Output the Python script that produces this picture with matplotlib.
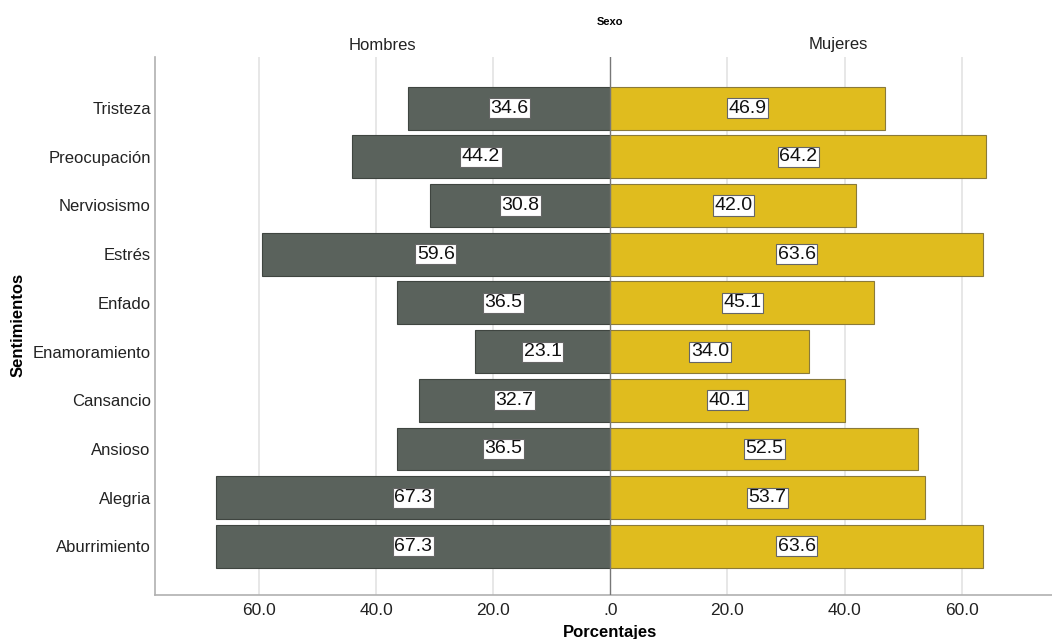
import numpy as np
import matplotlib.pyplot as plt

plt.rcParams['font.family'] = ['Liberation Sans', 'DejaVu Sans']

# categories listed bottom -> top
cats = ['Aburrimiento', 'Alegria', 'Ansioso', 'Cansancio', 'Enamoramiento',
        'Enfado', 'Estrés', 'Nerviosismo', 'Preocupación', 'Tristeza']
hombres = [67.3, 67.3, 36.5, 32.7, 23.1, 36.5, 59.6, 30.8, 44.2, 34.6]
mujeres = [63.6, 53.7, 52.5, 40.1, 34.0, 45.1, 63.6, 42.0, 64.2, 46.9]
xticks = [-60, -40, -20, 0, 20, 40, 60]
xticklabels = ['60.0', '40.0', '20.0', '.0', '20.0', '40.0', '60.0']

fig = plt.figure(figsize=(10.52, 6.39), dpi=100)
ax = fig.add_axes([155/1052, 1-595/639, 912/1052, (595-57)/639])

y = np.arange(len(cats))
left = ax.barh(y, -np.array(hombres), height=0.88, color='#5a625c',
               edgecolor='#3f4540', linewidth=0.8, zorder=3)
right = ax.barh(y, mujeres, height=0.88, color='#e0bc1e',
                edgecolor='#8a7a3a', linewidth=0.8, zorder=3)

box = dict(boxstyle='square,pad=0.08', fc='white', ec='#666666', lw=0.8)
ax.bar_label(left, labels=['%.1f' % v for v in hombres], label_type='center',
             fontsize=14, color='#111111', bbox=box, zorder=5)
ax.bar_label(right, labels=['%.1f' % v for v in mujeres], label_type='center',
             fontsize=14, color='#111111', bbox=box, zorder=5)

ax.set_xlim(-77.8, 78)
ax.set_ylim(-1.0, 10.05)
ax.set_xticks(xticks)
ax.set_xticklabels(xticklabels, fontsize=12.5, color='#222222')
ax.set_yticks(y)
ax.set_yticklabels(cats, fontsize=12, color='#222222')
ax.tick_params(axis='x', length=0, pad=6)
ax.tick_params(axis='y', length=0, pad=3)

for t in xticks:
    if t != 0:
        ax.axvline(t, color='#e0e0e0', lw=1.1, zorder=1)
ax.axvline(0, color='#777777', lw=1.0, zorder=4)

for s in ['top', 'right']:
    ax.spines[s].set_visible(False)
ax.spines['left'].set_color('#b0b0b0')
ax.spines['bottom'].set_color('#b0b0b0')
ax.spines['left'].set_linewidth(1.2)
ax.spines['bottom'].set_linewidth(1.2)

fig.text(610/1052, 1-22/639, 'Sexo', fontsize=8, fontweight='bold',
         ha='center', va='center')
fig.text(382/1052, 1-45/639, 'Hombres', fontsize=12, color='#222222',
         ha='center', va='center')
fig.text(838/1052, 1-45/639, 'Mujeres', fontsize=12, color='#222222',
         ha='center', va='center')
fig.text(610/1052, 1-633/639, 'Porcentajes', fontsize=12, fontweight='bold',
         ha='center', va='center')
fig.text(18/1052, 1-325/639, 'Sentimientos', fontsize=12, fontweight='bold',
         rotation=90, ha='center', va='center')

fig.savefig('out.png', dpi=100)
